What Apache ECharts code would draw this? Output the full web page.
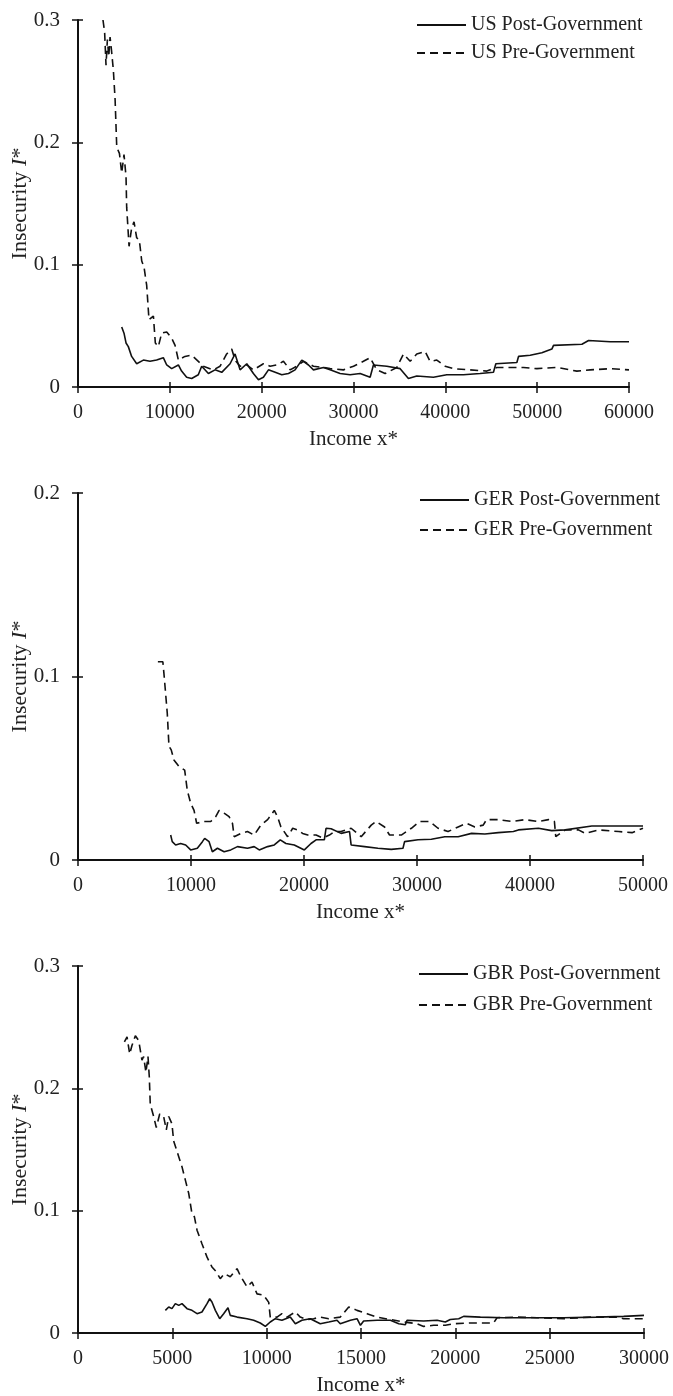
<!DOCTYPE html>
<html>
<head>
<meta charset="utf-8">
<script src="https://cdn.jsdelivr.net/npm/echarts@6/dist/echarts.min.js"></script>
<style>
  html, body { margin: 0; padding: 0; background: #fff; }
  #main { width: 673px; height: 1396px; }
</style>
</head>
<body>
<div id="main"></div>
<script>
// [income, insecurity] pairs
const usPost = [[4760,0.049],[5010,0.044],[5230,0.036],[5480,0.033],[5840,0.025],[6390,0.019],[7120,0.022],[7840,0.021],[8560,0.022],[9290,0.024],[9660,0.018],[10200,0.015],[10930,0.018],[11280,0.013],[11830,0.008],[12380,0.007],[13100,0.010],[13470,0.017],[14200,0.011],[14920,0.014],[15650,0.012],[16560,0.019],[17100,0.027],[17650,0.014],[18380,0.019],[19100,0.011],[19650,0.006],[20190,0.008],[20740,0.014],[21470,0.012],[22190,0.010],[22920,0.011],[23640,0.014],[24370,0.022],[25100,0.018],[25640,0.014],[26730,0.016],[27450,0.014],[28540,0.011],[29630,0.010],[30720,0.011],[31810,0.008],[32170,0.018],[33630,0.017],[35080,0.015],[35980,0.007],[36890,0.009],[38700,0.008],[40160,0.010],[41970,0.010],[43790,0.011],[45240,0.012],[45500,0.019],[47790,0.020],[47970,0.025],[49240,0.026],[50510,0.028],[51600,0.031],[51780,0.034],[54870,0.035],[55600,0.038],[57950,0.037],[60000,0.037]];
const usPre = [[2720,0.300],[2900,0.290],[3050,0.263],[3200,0.284],[3350,0.270],[3490,0.286],[3650,0.275],[3850,0.259],[4040,0.235],[4220,0.196],[4510,0.191],[4760,0.175],[5010,0.190],[5230,0.172],[5300,0.147],[5560,0.115],[5840,0.130],[6100,0.135],[6390,0.122],[6680,0.120],[6940,0.103],[7190,0.098],[7480,0.083],[7730,0.055],[8210,0.058],[8420,0.036],[8750,0.033],[9110,0.044],[9660,0.045],[10200,0.040],[10570,0.034],[10930,0.022],[11650,0.025],[12380,0.026],[13100,0.021],[13650,0.017],[14740,0.014],[15470,0.017],[16190,0.027],[16740,0.031],[17100,0.022],[17650,0.017],[18380,0.018],[19100,0.014],[20190,0.019],[20920,0.017],[21650,0.018],[22370,0.021],[23100,0.014],[23820,0.017],[24550,0.021],[25640,0.017],[26730,0.016],[27450,0.015],[28900,0.014],[30000,0.017],[31080,0.021],[31810,0.024],[32540,0.014],[33440,0.011],[34720,0.016],[35440,0.027],[36170,0.021],[36890,0.027],[37800,0.029],[38340,0.021],[39070,0.022],[39980,0.017],[40880,0.015],[42700,0.014],[44520,0.013],[45610,0.016],[47060,0.016],[48510,0.016],[49970,0.015],[52140,0.016],[54320,0.013],[55770,0.014],[57950,0.015],[60000,0.014]];

const gerPost = [[8200,0.0136],[8340,0.010],[8640,0.0082],[9080,0.009],[9530,0.0082],[9970,0.0055],[10560,0.0064],[11010,0.010],[11210,0.0118],[11600,0.010],[11890,0.0045],[12340,0.0064],[12930,0.0045],[13520,0.0055],[14110,0.0073],[15000,0.0064],[15590,0.0073],[16040,0.0055],[16780,0.0073],[17370,0.0082],[17900,0.011],[18400,0.009],[19140,0.0082],[20030,0.0055],[20620,0.009],[21070,0.011],[21800,0.011],[21950,0.0173],[22400,0.0170],[23280,0.0145],[24030,0.0155],[24170,0.0082],[25360,0.0073],[26540,0.0064],[27720,0.0058],[28760,0.0064],[28900,0.010],[30090,0.011],[31270,0.0113],[32460,0.0127],[33640,0.0127],[34830,0.0145],[36010,0.0142],[37190,0.0149],[38530,0.0155],[38970,0.0164],[40740,0.0173],[41920,0.016],[43110,0.0164],[45470,0.0185],[47840,0.0185],[50000,0.0185]];
const gerPre = [[7070,0.108],[7510,0.108],[7600,0.102],[7900,0.080],[8050,0.062],[8250,0.060],[8490,0.0545],[8930,0.051],[9440,0.049],[9670,0.038],[9970,0.031],[10270,0.027],[10500,0.020],[11150,0.021],[11750,0.021],[12190,0.0236],[12490,0.027],[12930,0.0255],[13370,0.0236],[13670,0.020],[13820,0.0127],[14410,0.0145],[15000,0.0155],[15590,0.0136],[16180,0.019],[16780,0.022],[17370,0.027],[17660,0.0236],[17960,0.018],[18550,0.0127],[19000,0.0173],[19440,0.0164],[19880,0.0145],[20330,0.0136],[21070,0.0136],[21660,0.012],[22250,0.0136],[22700,0.0155],[23280,0.0155],[24170,0.0173],[25060,0.0127],[25950,0.019],[26390,0.021],[27130,0.018],[27570,0.0136],[28610,0.0136],[29500,0.0173],[30240,0.021],[31130,0.021],[31860,0.0173],[32750,0.0155],[33640,0.018],[34380,0.020],[35120,0.018],[35860,0.019],[36150,0.022],[37190,0.022],[38380,0.021],[39560,0.022],[40740,0.021],[41630,0.022],[42160,0.021],[42280,0.0127],[43110,0.0164],[44290,0.0164],[44880,0.0145],[46070,0.0164],[47840,0.0155],[49030,0.0149],[50000,0.0173]];

const gbrPost = [[4630,0.0185],[4810,0.0213],[4980,0.0199],[5160,0.024],[5340,0.0226],[5510,0.024],[5780,0.0199],[6040,0.0185],[6310,0.0158],[6570,0.0172],[6840,0.024],[6980,0.028],[7100,0.0253],[7280,0.0185],[7510,0.0117],[7720,0.0158],[7950,0.0207],[8070,0.0144],[8430,0.013],[8960,0.0117],[9310,0.0104],[9660,0.0082],[9930,0.0054],[10190,0.009],[10460,0.0117],[10810,0.0104],[11250,0.013],[11520,0.0076],[11870,0.0104],[12310,0.0117],[12840,0.0076],[13290,0.009],[13730,0.0104],[13900,0.0076],[14440,0.0104],[14790,0.0117],[14970,0.0063],[15140,0.0098],[15850,0.0104],[16560,0.0104],[17000,0.0076],[17350,0.0068],[17440,0.0104],[18320,0.0098],[19030,0.0104],[19470,0.009],[19730,0.011],[20180,0.0117],[20440,0.0136],[21330,0.013],[22560,0.0125],[23980,0.0125],[25740,0.0125],[27500,0.013],[28920,0.0136],[30000,0.0144]];
const gbrPre = [[2460,0.238],[2600,0.242],[2740,0.228],[2860,0.235],[3040,0.243],[3220,0.239],[3390,0.223],[3480,0.226],[3600,0.213],[3710,0.226],[3780,0.209],[3830,0.187],[4010,0.177],[4150,0.168],[4330,0.179],[4540,0.177],[4680,0.166],[4810,0.177],[4980,0.171],[5070,0.157],[5340,0.144],[5510,0.136],[5690,0.125],[5870,0.114],[6040,0.0975],[6170,0.095],[6310,0.084],[6570,0.073],[6840,0.062],[7100,0.054],[7330,0.050],[7540,0.0444],[7760,0.0485],[8070,0.046],[8430,0.0526],[8600,0.047],[8960,0.0376],[9220,0.0417],[9490,0.032],[9840,0.031],[10110,0.025],[10190,0.013],[10550,0.013],[10810,0.0158],[11080,0.013],[11520,0.0172],[11780,0.013],[12140,0.011],[12490,0.0117],[12840,0.013],[13290,0.0117],[13900,0.013],[14350,0.0213],[14790,0.0185],[15320,0.0158],[15850,0.013],[16560,0.011],[17260,0.009],[17970,0.0076],[18320,0.0054],[18850,0.0063],[19470,0.0063],[19910,0.0076],[20790,0.0082],[22030,0.0082],[22210,0.0125],[23270,0.013],[24330,0.0125],[25740,0.0117],[27160,0.013],[28570,0.013],[28920,0.0117],[30000,0.0117]];

// axis ranges: [max, tick interval]
const xRanges = [[60000, 10000], [50000, 10000], [30000, 5000]];
const yRanges = [[0.3, 0.1], [0.2, 0.1], [0.3, 0.1]];
const countries = ['US', 'GER', 'GBR'];
const panels = [[usPost, usPre], [gerPost, gerPre], [gbrPost, gbrPre]];

const FONT = 'Liberation Serif';
const grids = [
    { left: 78, top: 20, width: 551, height: 367, outerBoundsMode: 'none', containLabel: false },
    { left: 78, top: 493, width: 565, height: 367, outerBoundsMode: 'none', containLabel: false },
    { left: 78, top: 966, width: 566, height: 367, outerBoundsMode: 'none', containLabel: false }
];
const legendPos = [[411, 10, 8], [414, 485, 10], [413, 959, 11]];

const xAxis = [], yAxis = [], series = [], legend = [];
grids.forEach((g, i) => {
    const [xmax, xint] = xRanges[i];
    const [ymax, yint] = yRanges[i];
    // main axes (ticks outside + labels)
    xAxis.push({
        type: 'value', gridIndex: i, min: 0, max: xmax, interval: xint, position: 'bottom',
        name: 'Income x*', nameLocation: 'middle', nameGap: 42, nameMoveOverlap: false,
        nameTextStyle: { fontFamily: FONT, fontSize: 21, color: '#222' },
        axisLine: { lineStyle: { color: '#111', width: 2 } },
        axisTick: { length: 6, lineStyle: { color: '#111', width: 1.5 } },
        axisLabel: { fontFamily: FONT, fontSize: 20, color: '#222', margin: 16, formatter: v => String(v) },
        splitLine: { show: false }
    });
    yAxis.push({
        type: 'value', gridIndex: i, min: 0, max: ymax, interval: yint, position: 'left',
        name: 'Insecurity {i|I}*', nameLocation: 'middle', nameGap: 47, nameMoveOverlap: false,
        nameTextStyle: { fontFamily: FONT, fontSize: 22, color: '#222', rich: { i: { fontFamily: FONT, fontSize: 22, fontStyle: 'italic', color: '#222' } } },
        axisLine: { show: true, lineStyle: { color: '#111', width: 2 } },
        axisTick: { show: true, length: 6, lineStyle: { color: '#111', width: 1.5 } },
        axisLabel: { fontFamily: FONT, fontSize: 21, color: '#222', margin: 18, formatter: v => String(v) },
        splitLine: { show: false }
    });
    // twin axes for the inner half of the crossing ticks
    xAxis.push({
        type: 'value', gridIndex: i, min: 0, max: xmax, interval: xint, position: 'bottom',
        axisLine: { show: false }, axisLabel: { show: false }, splitLine: { show: false },
        axisTick: { inside: true, length: 5, lineStyle: { color: '#111', width: 1.5 } }
    });
    yAxis.push({
        type: 'value', gridIndex: i, min: 0, max: ymax, interval: yint, position: 'left',
        axisLine: { show: false }, axisLabel: { show: false }, splitLine: { show: false },
        axisTick: { show: true, inside: true, length: 5, lineStyle: { color: '#111', width: 1.5 } }
    });
    const names = [countries[i] + ' Post-Government', countries[i] + ' Pre-Government'];
    panels[i].forEach((d, k) => {
        series.push({
            name: names[k], type: 'line', data: d,
            xAxisIndex: i * 2, yAxisIndex: i * 2,
            symbol: 'none', smooth: false,
            lineStyle: { color: '#111', width: 1.6, type: k === 0 ? 'solid' : [8, 5] },
            itemStyle: { color: '#111' }
        });
    });
    legend.push({
        data: names, orient: 'vertical', left: legendPos[i][0], top: legendPos[i][1],
        itemWidth: 49, itemHeight: 14, itemGap: legendPos[i][2],
        itemStyle: { opacity: 0 },
        textStyle: { fontFamily: FONT, fontSize: 20, color: '#222', lineHeight: 20 }
    });
});

const chart = echarts.init(document.getElementById('main'));
chart.setOption({
    animation: false,
    backgroundColor: '#fff',
    grid: grids,
    legend: legend,
    xAxis: xAxis,
    yAxis: yAxis,
    series: series
});
</script>
</body>
</html>
